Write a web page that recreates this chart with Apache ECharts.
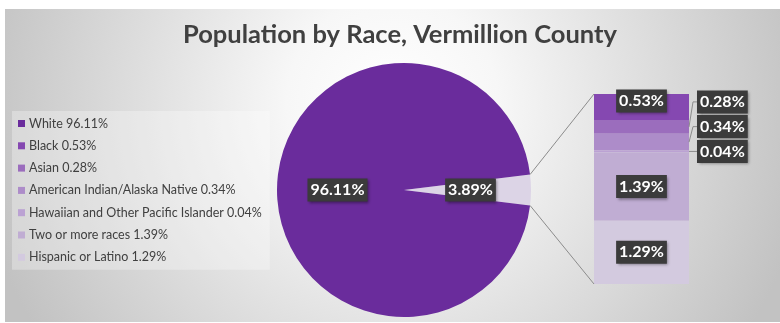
<!DOCTYPE html>
<html>
<head>
<meta charset="utf-8">
<script src="https://cdn.jsdelivr.net/npm/echarts@6/dist/echarts.min.js"></script>
<style>
  html, body { margin: 0; padding: 0; background: #ffffff; }
  #chart { width: 780px; height: 323px; }
</style>
</head>
<body>
<div id="chart"></div>
<script>
// Population shares (%) by race
const mainName = 'White';
const mainValue = 96.11;
const otherName = 'Other races';
const otherValue = 3.89;

// Breakdown of the "other" slice, drawn as a stacked bar (top to bottom)
const detailNames = [
  'Black',
  'Asian',
  'American Indian/Alaska Native',
  'Hawaiian and Other Pacific Islander',
  'Two or more races',
  'Hispanic or Latino'
];
const detailValues = [0.53, 0.28, 0.34, 0.04, 1.39, 1.29];

const mainColor = '#6a2c9c';
const otherColor = '#dcd4e6';
const detailColors = ['#8548b1', '#9b6dbd', '#ad8cc9', '#bba2d3', '#c0add3', '#d3cadf'];

// How each bar label sits: inside the segment or pulled out to the right
const labelPlacement = [
  { position: 'inside', offset: [0, -6] },
  { position: 'right', offset: [0, -25] },
  { position: 'right', offset: [0, -15.5] },
  { position: 'right', offset: [0, 0] },
  { position: 'inside', offset: [0, 0] },
  { position: 'inside', offset: [0, 0] }
];
const labelDistance = 8;

const valueByName = {};
valueByName[mainName] = mainValue;
detailNames.forEach((n, i) => { valueByName[n] = detailValues[i]; });

const FONT = 'Lato, "Noto Sans", sans-serif';
const badge = {
  color: '#ffffff',
  fontFamily: FONT,
  fontWeight: 'bold',
  fontSize: 16,
  lineHeight: 15,
  backgroundColor: '#3b3b3b',
  padding: [4, 3, 4, 3],
  shadowColor: 'rgba(0,0,0,0.45)',
  shadowBlur: 3,
  shadowOffsetX: 1.5,
  shadowOffsetY: 1.5
};

const detailTotal = detailValues.reduce((a, b) => a + b, 0);
const otherHalfAngle = otherValue / (mainValue + otherValue) * 360 / 2;

const chart = echarts.init(document.getElementById('chart'), null, { renderer: 'canvas' });

const barSeries = detailNames.map((name, i) => ({
  type: 'bar',
  name: name,
  stack: 'detail',
  barWidth: '100%',
  data: [detailValues[i]],
  itemStyle: { color: detailColors[i] },
  label: Object.assign({
    show: true,
    distance: labelDistance,
    formatter: p => p.value.toFixed(2) + '%'
  }, badge, labelPlacement[i]),
  emphasis: { disabled: true },
  silent: true
}));

chart.setOption({
  animation: false,
  graphic: [{
    id: 'bg',
    type: 'rect',
    z: -10,
    silent: true,
    shape: { x: 5, y: 9, width: 775, height: 313 },
    style: {
      fill: new echarts.graphic.RadialGradient(0.5, 0.3, 1.35, [
        { offset: 0, color: '#ffffff' },
        { offset: 0.25, color: '#f7f7f7' },
        { offset: 1, color: '#c2c2c2' }
      ])
    }
  }],
  title: {
    text: 'Population by Race, Vermillion County',
    left: 178,
    top: 17,
    textStyle: {
      fontFamily: FONT,
      fontWeight: 'bold',
      fontSize: 25.5,
      color: '#404040'
    }
  },
  legend: {
    orient: 'vertical',
    left: 12,
    top: 111,
    width: 255,
    padding: [5, 8, 5, 6],
    backgroundColor: 'rgba(255,255,255,0.3)',
    icon: 'rect',
    itemWidth: 7,
    itemHeight: 7,
    itemGap: 7.3,
    selectedMode: false,
    data: [mainName].concat(detailNames),
    formatter: name => name + ' ' + valueByName[name].toFixed(2) + '%',
    textStyle: {
      fontFamily: FONT,
      fontSize: 12.5,
      lineHeight: 15,
      color: '#404040',
      padding: [0, 0, 0, -1]
    }
  },
  grid: { left: 594, top: 94, width: 95, height: 190 },
  xAxis: { type: 'category', data: [''], show: false },
  yAxis: { type: 'value', inverse: true, min: 0, max: detailTotal, show: false },
  series: [{
    type: 'pie',
    center: [404, 190],
    radius: 127,
    startAngle: otherHalfAngle,
    clockwise: true,
    silent: true,
    emphasis: { disabled: true },
    data: [
      { name: otherName, value: otherValue, itemStyle: { color: otherColor } },
      { name: mainName, value: mainValue, itemStyle: { color: mainColor } }
    ],
    label: Object.assign({
      show: true,
      position: 'inside',
      formatter: p => p.value.toFixed(2) + '%'
    }, badge),
    labelLine: { show: false }
  }].concat(barSeries)
});

// Connector lines (pie slice to bar ends) and leader lines for the outside labels
function drawGuides() {
  const model = chart.getModel();
  const pieLayout = model.getSeriesByIndex(0).getData().getItemLayout(0);
  let barTop = Infinity, barBottom = -Infinity, barLeft = Infinity, barRight = -Infinity;
  const segs = [];
  for (let s = 1; s <= detailNames.length; s++) {
    const l = model.getSeriesByIndex(s).getData().getItemLayout(0);
    const t = Math.min(l.y, l.y + l.height), b = Math.max(l.y, l.y + l.height);
    segs.push({ top: t, bottom: b });
    barTop = Math.min(barTop, t);
    barBottom = Math.max(barBottom, b);
    barLeft = Math.min(barLeft, l.x, l.x + l.width);
    barRight = Math.max(barRight, l.x, l.x + l.width);
  }
  const a0 = Math.min(pieLayout.startAngle, pieLayout.endAngle);
  const a1 = Math.max(pieLayout.startAngle, pieLayout.endAngle);
  const p0 = [pieLayout.cx + pieLayout.r * Math.cos(a0), pieLayout.cy + pieLayout.r * Math.sin(a0)];
  const p1 = [pieLayout.cx + pieLayout.r * Math.cos(a1), pieLayout.cy + pieLayout.r * Math.sin(a1)];
  const lineStyle = { stroke: '#8c8c8c', lineWidth: 1, fill: null };
  const graphics = [
    { id: 'conn-top', type: 'line', silent: true, z: 5,
      shape: { x1: p0[0], y1: p0[1], x2: barLeft, y2: barTop }, style: lineStyle },
    { id: 'conn-bottom', type: 'line', silent: true, z: 5,
      shape: { x1: p1[0], y1: p1[1], x2: barLeft, y2: barBottom }, style: lineStyle }
  ];
  labelPlacement.forEach((pl, i) => {
    if (pl.position !== 'right') return;
    const segMid = (segs[i].top + segs[i].bottom) / 2;
    const labelMid = segMid + pl.offset[1];
    const lx = barRight + labelDistance;
    graphics.push({
      id: 'leader-' + i, type: 'polyline', silent: true, z: 5,
      shape: { points: [[lx, labelMid], [lx - 4, labelMid], [barRight, segMid]] },
      style: lineStyle
    });
  });
  chart.setOption({ graphic: graphics });
}
drawGuides();
</script>
</body>
</html>
